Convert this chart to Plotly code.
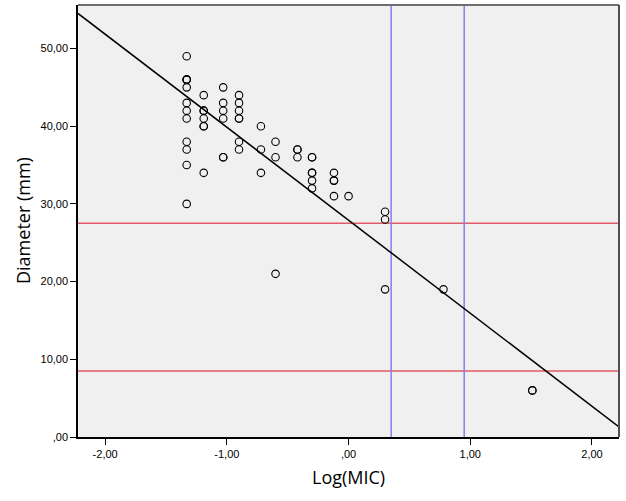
import plotly.graph_objects as go

# Log10(MIC) per observation and measured inhibition-zone diameter (mm)
log_mic = (
    [-1.33] * 12 +
    [-1.19] * 7 +
    [-1.03] * 6 +
    [-0.90] * 7 +
    [-0.72] * 3 +
    [-0.60] * 3 +
    [-0.42] * 3 +
    [-0.30] * 6 +
    [-0.12] * 4 +
    [0.00] * 1 +
    [0.30] * 3 +
    [0.78] * 1 +
    [1.51] * 2
)
diameter = (
    [49, 46, 46, 45, 43, 42, 41, 38, 37, 35, 30, 46] +
    [44, 42, 42, 41, 40, 40, 34] +
    [45, 43, 42, 41, 36, 36] +
    [44, 43, 42, 41, 41, 38, 37] +
    [40, 37, 34] +
    [38, 36, 21] +
    [37, 37, 36] +
    [36, 36, 34, 34, 33, 32] +
    [34, 33, 33, 31] +
    [31] +
    [29, 28, 19] +
    [19] +
    [6, 6]
)

# Fitted regression line (diameter = intercept + slope * log MIC)
reg_intercept = 27.9
reg_slope = -11.97

# Breakpoint reference lines
diameter_breakpoints = [27.5, 8.5]
mic_breakpoints = [0.35, 0.95]

x_range = [-2.223, 2.222]
y_range = [0, 55.6]
x_ticks = [-2, -1, 0, 1, 2]
x_ticktext = ["-2,00", "-1,00", ",00", "1,00", "2,00"]
y_ticks = [0, 10, 20, 30, 40, 50]
y_ticktext = [",00", "10,00", "20,00", "30,00", "40,00", "50,00"]
x_title = "Log(MIC)"
y_title = "Diameter (mm)"

fig = go.Figure()

# regression line
fig.add_trace(go.Scatter(
    x=x_range,
    y=[reg_intercept + reg_slope * v for v in x_range],
    mode="lines", line=dict(color="black", width=1.5),
    hoverinfo="skip", showlegend=False, cliponaxis=True,
))

fig.add_trace(go.Scatter(
    x=log_mic, y=diameter, mode="markers",
    marker=dict(symbol="circle-open", size=7.5, color="black",
                line=dict(width=1.1, color="black")),
    showlegend=False,
))

shapes = []
for d in diameter_breakpoints:
    shapes.append(dict(type="line", xref="paper", yref="y", x0=0, x1=1, y0=d, y1=d,
                       line=dict(color="rgb(226,90,102)", width=1.5), layer="below"))
for m in mic_breakpoints:
    shapes.append(dict(type="line", xref="x", yref="paper", x0=m, x1=m, y0=0, y1=1,
                       line=dict(color="rgb(128,128,232)", width=1.5), layer="below"))
# top / right frame in gray
shapes.append(dict(type="line", xref="paper", yref="paper", x0=0, x1=1, y0=1, y1=1,
                   line=dict(color="rgb(110,110,110)", width=2)))
shapes.append(dict(type="line", xref="paper", yref="paper", x0=1, x1=1, y0=0, y1=1,
                   line=dict(color="rgb(80,80,80)", width=2)))

axis_font = dict(family="Liberation Sans, Arial, sans-serif", size=11, color="black")
title_font = dict(family="Open Sans, sans-serif", size=18, color="black")

fig.update_layout(
    width=626, height=501,
    margin=dict(l=78, r=7, t=5, b=64),
    paper_bgcolor="white",
    plot_bgcolor="rgb(240,240,240)",
    shapes=shapes,
    xaxis=dict(
        range=x_range, tickvals=x_ticks, ticktext=x_ticktext,
        showgrid=False, zeroline=False, automargin=False,
        showline=True, linecolor="black", linewidth=1.5,
        ticks="outside", ticklen=6, tickcolor="black", tickwidth=1,
        tickfont=axis_font,
    ),
    yaxis=dict(
        range=y_range, tickvals=y_ticks, ticktext=y_ticktext,
        showgrid=False, zeroline=False, automargin=False,
        showline=True, linecolor="black", linewidth=1.5,
        ticks="outside", ticklen=6, tickcolor="black", tickwidth=1,
        tickfont=axis_font,
    ),
    annotations=[
        dict(text=x_title, xref="paper", yref="paper", x=0.5, y=0,
             xanchor="center", yanchor="middle", yshift=-40, showarrow=False,
             font=title_font),
        dict(text=y_title, xref="paper", yref="paper", x=0, y=0.5,
             xanchor="center", yanchor="middle", xshift=-55, showarrow=False,
             textangle=-90, font=title_font),
    ],
)

fig.write_html(
    "out.html",
    config={"displayModeBar": False},
    post_script="document.body.style.margin='0px';document.body.style.overflow='hidden';",
)
